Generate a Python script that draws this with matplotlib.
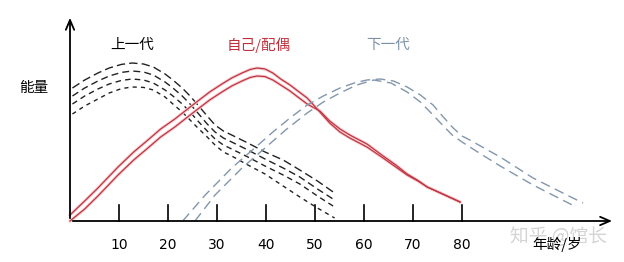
import matplotlib
matplotlib.use("Agg")
import matplotlib.pyplot as plt

plt.rcParams['font.family'] = ['Noto Sans CJK SC', 'DejaVu Sans']

# 上一代: four dashed curves on a shared age grid
older_x = [0.5, 3, 5.7, 8, 10.5, 12.7, 15, 17, 19.4, 21, 22.9, 24.5, 26.1, 28, 29.6,
           31.3, 33, 36.3, 39.8, 43.5, 46.9, 50.5, 54]
older_1 = [66.5, 70.5, 74, 76.5, 78.3, 79, 78.5, 77, 73.5, 70.5, 66.5, 62.5, 58, 52.5, 48,
           45, 43, 39, 34.5, 30.5, 25.5, 20, 14]
older_2 = [62.5, 66.5, 70, 72.5, 74.3, 75, 74.5, 73, 69.5, 66.5, 62.5, 58.5, 54, 48.5, 44.5,
           41.5, 39.5, 35.5, 31, 26.5, 22, 16, 10.5]
older_3 = [58.5, 62.5, 66, 68.5, 70.3, 71, 70.5, 69, 65.5, 62.5, 58.5, 54.5, 50, 45, 41,
           38, 36, 32, 27.5, 23, 18.5, 12.5, 7]
older_4 = [53.5, 57.5, 61, 64, 66.2, 67, 66.8, 65.5, 62, 58.5, 54.5, 50.5, 46.5, 42, 38,
           34.5, 32.5, 28, 23.5, 17.5, 12, 6.5, 1.5]

# 自己/配偶: two solid red curves
self_x = [0, 3, 5.7, 9.8, 13, 15.9, 18.5, 21.4, 24, 26.1, 28.5, 31, 33, 35.1, 36.8, 38.2,
          39.8, 41.4, 43, 44.9, 46.5, 48.4, 51, 53, 55.1, 57.1, 60.6, 63.9, 66.5, 68.8,
          71, 72.9, 76.5, 79.6]
self_y1 = [3, 10, 16.5, 27, 34.5, 40.5, 46, 51, 56, 60, 64.5, 68.5, 71.5, 74, 75.8, 76.5,
           76, 74, 71, 68, 65, 61.5, 54.5, 49, 44.5, 41.5, 37, 31.5, 27, 23,
           20, 17, 13, 9.5]
self_y2 = [0, 6, 12.5, 23, 30.5, 36.5, 42, 47, 52, 56, 60.5, 64.5, 67.5, 70, 71.8, 72.5,
           72.2, 70.5, 68, 65, 62, 58.5, 55, 50, 46, 43, 38.5, 32.5, 28, 23.5,
           20.3, 17, 13, 9.5]

# 下一代: two dashed blue curves
young_x1 = [23, 27.6, 33, 38.4, 41.4, 44.9, 48.4, 51.7, 55.1, 58, 60.6, 63.3, 66, 68.8,
            71.5, 74.1, 76, 78.2, 80, 81.6, 84.5, 87.8, 94.5, 101.4, 104.7]
young_y1 = [0, 13, 26.5, 38, 44.5, 51.5, 58, 62.5, 66.5, 69, 70.5, 71, 70, 67,
            63, 58, 52.5, 46.5, 42.5, 40.5, 36.5, 32, 21.5, 13, 9]
young_x2 = [25.5, 29.6, 35.1, 39.8, 44, 48.4, 51.7, 55.1, 58.5, 62, 65.5, 68.8, 71.5,
            74.1, 76, 78, 80, 81.6, 84.5, 87.8, 94.5, 102.5]
young_y2 = [0, 13, 26.5, 36.5, 45.5, 54, 59.5, 64, 68, 70.5, 69, 64.5, 59.5,
            53, 48, 43, 39.5, 37, 32.5, 27.5, 18, 8]

ticks = [10, 20, 30, 40, 50, 60, 70, 80]

fig = plt.figure(figsize=(6.24, 2.62), dpi=100)
ax = fig.add_axes([0, 0, 1, 1])
ax.set_xlim(-70 / 4.9, 554 / 4.9)
ax.set_ylim(-20.5, 110.5)
ax.axis('off')

# axes with arrows
ax.annotate('', xy=(111.2, 0), xytext=(0, 0),
            arrowprops=dict(arrowstyle='->,head_length=0.7,head_width=0.3', lw=1.3, color='black'))
ax.annotate('', xy=(0, 103), xytext=(0, 0),
            arrowprops=dict(arrowstyle='->,head_length=0.7,head_width=0.3', lw=1.3, color='black'))
for t in ticks:
    ax.plot([t, t], [0, 8], color='black', lw=1.2)
    ax.text(t, -12, str(t), ha='center', va='center', fontsize=10, family='DejaVu Sans')

# older generation
dash_styles = [(6, 3), (5, 3), (4, 3), (3, 3)]
for ys, d in zip([older_1, older_2, older_3, older_4], dash_styles):
    ax.plot(older_x, ys, color='#222222', lw=1.0, dashes=d)

# self / spouse, with a soft pink halo
for ys in [self_y1, self_y2]:
    ax.plot(self_x, ys, color='#f5cdd0', lw=2.2, solid_joinstyle='round')
for ys in [self_y1, self_y2]:
    ax.plot(self_x, ys, color='#c03442', lw=0.9, solid_joinstyle='round')

# next generation
for xs, ys in [(young_x1, young_y1), (young_x2, young_y2)]:
    ax.plot(xs, ys, color='#8296ad', lw=1.0, dashes=(7, 4))

# labels
ax.text(12.7, 88, '上一代', ha='center', va='center', fontsize=10.5, color='black')
ax.text(38.6, 88, '自己/配偶', ha='center', va='center', fontsize=10.5, color='#c0303c')
ax.text(65, 88, '下一代', ha='center', va='center', fontsize=10.5, color='#7c91a6')
ax.text(-7.4, 66.5, '能量', ha='center', va='center', fontsize=10.5, color='black')
ax.text(99.6, -7.5, '知乎 @馆长', ha='center', va='center', fontsize=13.5, color='#d4d4d4')
ax.text(99.4, -11.5, '年龄/岁', ha='center', va='center', fontsize=10.5, color='black')

fig.savefig('out.png', dpi=100)
